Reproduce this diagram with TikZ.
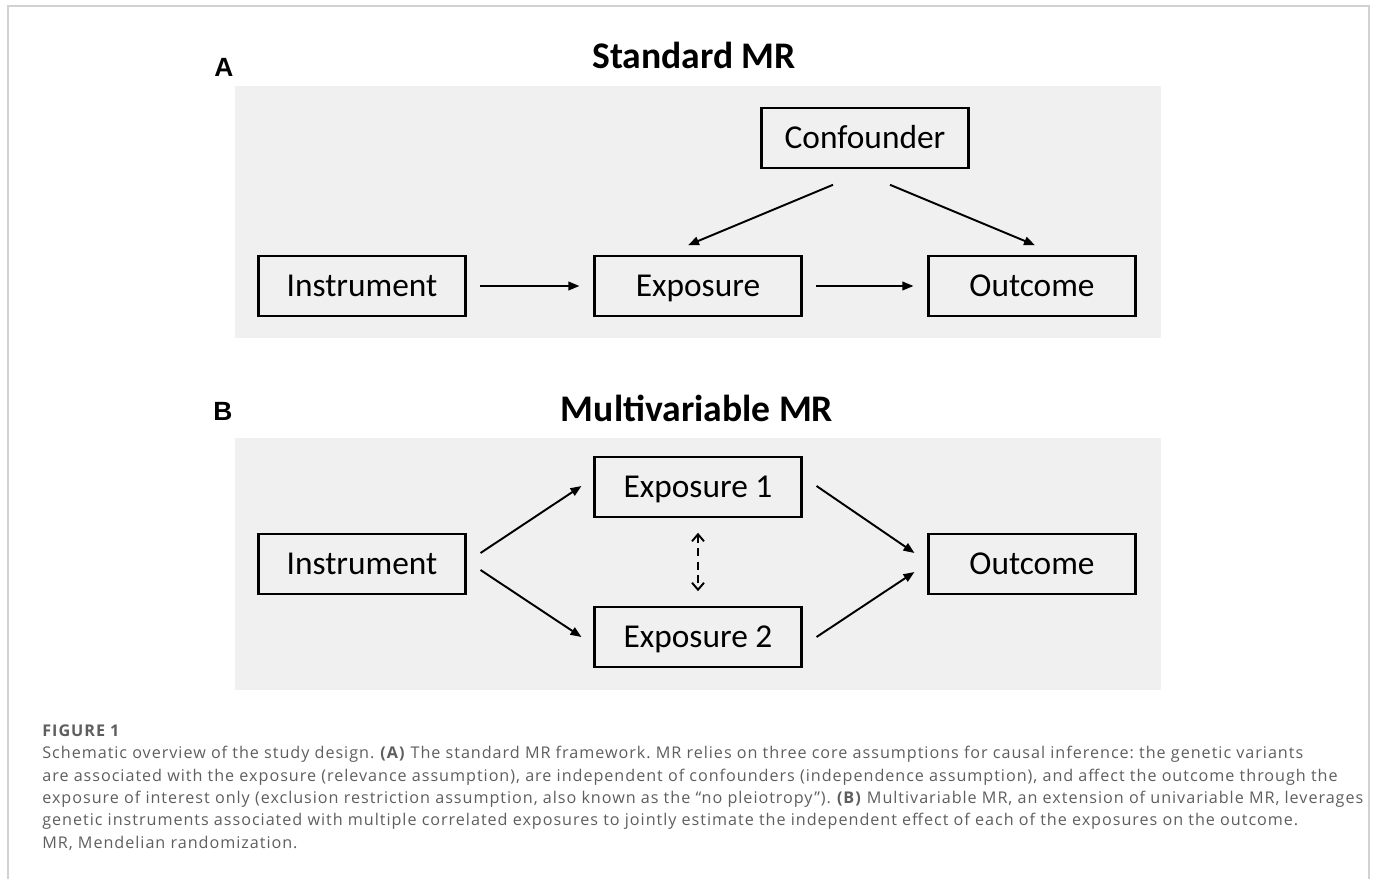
\documentclass[tikz,border=0pt]{standalone}
\usepackage{fontspec}
\setmainfont{Carlito}
\newfontfamily\panelfont{Liberation Sans}
\newfontfamily\capfont[LetterSpace=6]{Open Sans}
\usetikzlibrary{arrows.meta}
\definecolor{panelgray}{HTML}{F0F0F0}
\definecolor{framegray}{HTML}{D2D2D2}
\definecolor{captext}{HTML}{5E5E5E}

\tikzset{
  box/.style={draw, line width=1.2pt, minimum width=4.14cm, minimum height=1.19cm, inner sep=0pt, font=\fontsize{19}{22}\selectfont, text height=12.2pt, text depth=0pt},
  link/.style={-{Triangle[length=0.22cm, width=0.17cm]}, line width=1.1pt},
  corr/.style={{Straight Barb[length=0.14cm, width=0.24cm]}-{Straight Barb[length=0.14cm, width=0.24cm]}, line width=1.1pt, dash pattern=on 4.5pt off 3pt},
  heading/.style={font=\fontsize{21.4}{24}\selectfont\bfseries},
  tag/.style={font=\panelfont\fontsize{15}{18}\selectfont\bfseries}
}

\begin{document}
\frenchspacing
\begin{tikzpicture}[x=0.02cm, y=-0.02cm]
\useasboundingbox (0,0) rectangle (1375,879);
\draw[framegray, line width=1pt] (8,879) -- (8,6) -- (1369,6) -- (1369,879);
\fill[panelgray] (235,86) rectangle (1161,338);
\fill[panelgray] (235,438) rectangle (1161,690);
\node[tag] (tagA) at (224,67) {A};
\node[tag] (tagB) at (223,411) {B};
\node[heading] (titleA) at (694,55) {Standard MR};
\node[heading] (titleB) at (697,408) {Multivariable MR};

\node[box] (conf) at (865,138) {Confounder};
\node[box] (instrA) at (362,286) {Instrument};
\node[box] (expA) at (698,286) {Exposure};
\node[box] (outA) at (1032,286) {Outcome};
\draw[link, shorten <=0.26cm, shorten >=0.28cm] (instrA) -- (expA);
\draw[link, shorten <=0.26cm, shorten >=0.28cm] (expA) -- (outA);
\draw[link] ([shift={(-32,16)}]conf.south) -- ([shift={(-10,-10)}]expA.north);
\draw[link] ([shift={(25,16)}]conf.south) -- ([shift={(3,-10)}]outA.north);

\node[box] (instrB) at (362,564) {Instrument};
\node[box] (expB1) at (698,487) {Exposure 1};
\node[box] (expB2) at (698,637) {Exposure 2};
\node[box] (outB) at (1032,564) {Outcome};
\draw[link] ([shift={(14,-11)}]instrB.east) -- ([shift={(-12,-1)}]expB1.west);
\draw[link] ([shift={(14,6)}]instrB.east) -- ([shift={(-12,0)}]expB2.west);
\draw[link] ([shift={(14,-1)}]expB1.east) -- ([shift={(-13,-11)}]outB.west);
\draw[link] ([shift={(14,0)}]expB2.east) -- ([shift={(-13,8)}]outB.west);
\draw[corr] ([shift={(0,15)}]expB1.south) -- ([shift={(0,-15)}]expB2.north);

\node[anchor=base west, inner sep=0pt, align=left, text=captext,
  font=\capfont\fontsize{9.2}{12.7}\selectfont] (caption) at (42,848)
  {\textbf{FIGURE 1}\\
  Schematic overview of the study design. \textbf{(A)} The standard MR framework. MR relies on three core assumptions for causal inference: the genetic variants\\
  are associated with the exposure (relevance assumption), are independent of confounders (independence assumption), and affect the outcome through the\\
  exposure of interest only (exclusion restriction assumption, also known as the “no pleiotropy”). \textbf{(B)} Multivariable MR, an extension of univariable MR, leverages\\
  genetic instruments associated with multiple correlated exposures to jointly estimate the independent effect of each of the exposures on the outcome.\\
  MR, Mendelian randomization.};
\end{tikzpicture}
\end{document}
